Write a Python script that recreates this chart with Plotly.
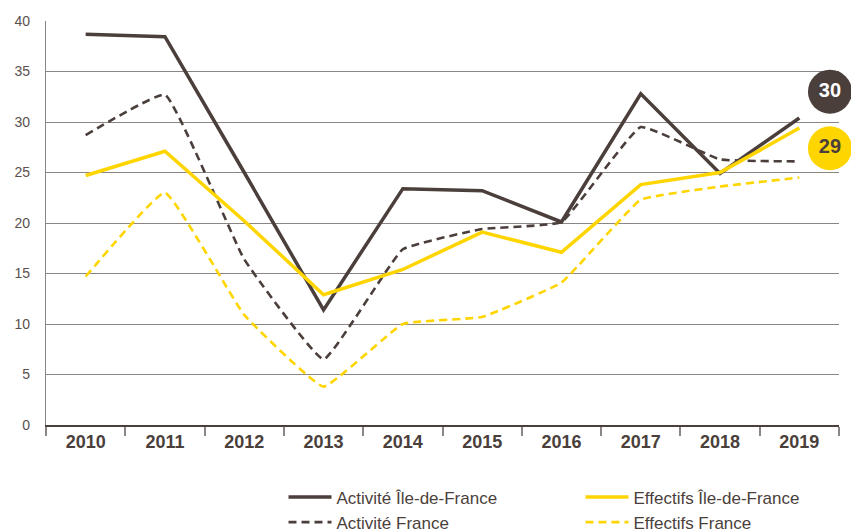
import plotly.graph_objects as go

years = ["2010", "2011", "2012", "2013", "2014", "2015", "2016", "2017", "2018", "2019"]
activite_idf = [38.7, 38.45, 25.0, 11.4, 23.4, 23.2, 20.1, 32.8, 24.9, 30.4]
activite_fr = [28.7, 32.7, 16.4, 6.5, 17.4, 19.4, 20.1, 29.5, 26.3, 26.1]
effectifs_idf = [24.7, 27.1, 20.2, 12.9, 15.4, 19.1, 17.1, 23.8, 25.0, 29.4]
effectifs_fr = [14.7, 23.0, 10.9, 3.8, 10.0, 10.7, 14.1, 22.3, 23.6, 24.5]
y_ticks = [0, 5, 10, 15, 20, 25, 30, 35, 40]

DARK = "#4b3f3c"
YELLOW = "#ffd500"
GRID = "#8c8585"
FONT = "Liberation Sans"

xs = list(range(len(years)))

fig = go.Figure()
fig.add_trace(go.Scatter(x=xs, y=activite_idf, mode="lines", name="Activité Île-de-France",
                         line=dict(color=DARK, width=3.5), legend="legend"))
fig.add_trace(go.Scatter(x=xs, y=activite_fr, mode="lines", name="Activité France",
                         line=dict(color=DARK, width=2.6, dash="8px,5px", shape="spline", smoothing=0.3),
                         legend="legend"))
fig.add_trace(go.Scatter(x=xs, y=effectifs_idf, mode="lines", name="Effectifs Île-de-France",
                         line=dict(color=YELLOW, width=3.5), legend="legend2"))
fig.add_trace(go.Scatter(x=xs, y=effectifs_fr, mode="lines", name="Effectifs France",
                         line=dict(color=YELLOW, width=2.6, dash="8px,5px", shape="spline", smoothing=0.3),
                         legend="legend2"))

# end-value badges
fig.add_trace(go.Scatter(x=[9.386], y=[33.0], mode="markers+text", showlegend=False,
                         marker=dict(size=44, color=DARK), cliponaxis=False,
                         text=[str(round(activite_idf[-1]))], textposition="middle center",
                         textfont=dict(family=FONT, size=20, color="white", weight="bold"),
                         hoverinfo="skip"))
fig.add_trace(go.Scatter(x=[9.386], y=[27.4], mode="markers+text", showlegend=False,
                         marker=dict(size=44, color=YELLOW), cliponaxis=False,
                         text=[str(round(effectifs_idf[-1]))], textposition="middle center",
                         textfont=dict(family=FONT, size=20, color=DARK, weight="bold"),
                         hoverinfo="skip"))

legend_common = dict(orientation="v", xref="paper", yref="container", yanchor="top",
                     xanchor="left", y=0.095, tracegroupgap=0, itemwidth=43,
                     bgcolor="rgba(0,0,0,0)",
                     font=dict(family=FONT, size=17, color=DARK))

fig.update_layout(
    width=851, height=521,
    margin=dict(l=38, r=20, t=13, b=104, autoexpand=False),
    plot_bgcolor="white", paper_bgcolor="white",
    font=dict(family=FONT, color=DARK),
    showlegend=True,
    legend=dict(x=0.2995, **legend_common),
    legend2=dict(x=0.674, **legend_common),
)
fig.update_xaxes(
    range=[-0.5, 9.5], tickvals=xs, ticktext=years, ticks="", automargin=False,
    tickfont=dict(family=FONT, size=18, color=DARK, weight="bold"),
    showgrid=False, zeroline=False, showline=True, linecolor=DARK, linewidth=1.5,
    minor=dict(ticks="outside", tick0=-0.5, dtick=1, ticklen=9, tickcolor=GRID, tickwidth=1.5, showgrid=False),
)
fig.update_yaxes(
    range=[0, 40], tickvals=y_ticks, ticks="", automargin=False,
    tickfont=dict(family=FONT, size=14, color="#5a504d"),
    showgrid=True, gridcolor=GRID, gridwidth=1.3, zeroline=False,
    showline=True, linecolor=GRID, linewidth=1.3, ticklabelstandoff=12,
)

fig.write_html("out.html")
